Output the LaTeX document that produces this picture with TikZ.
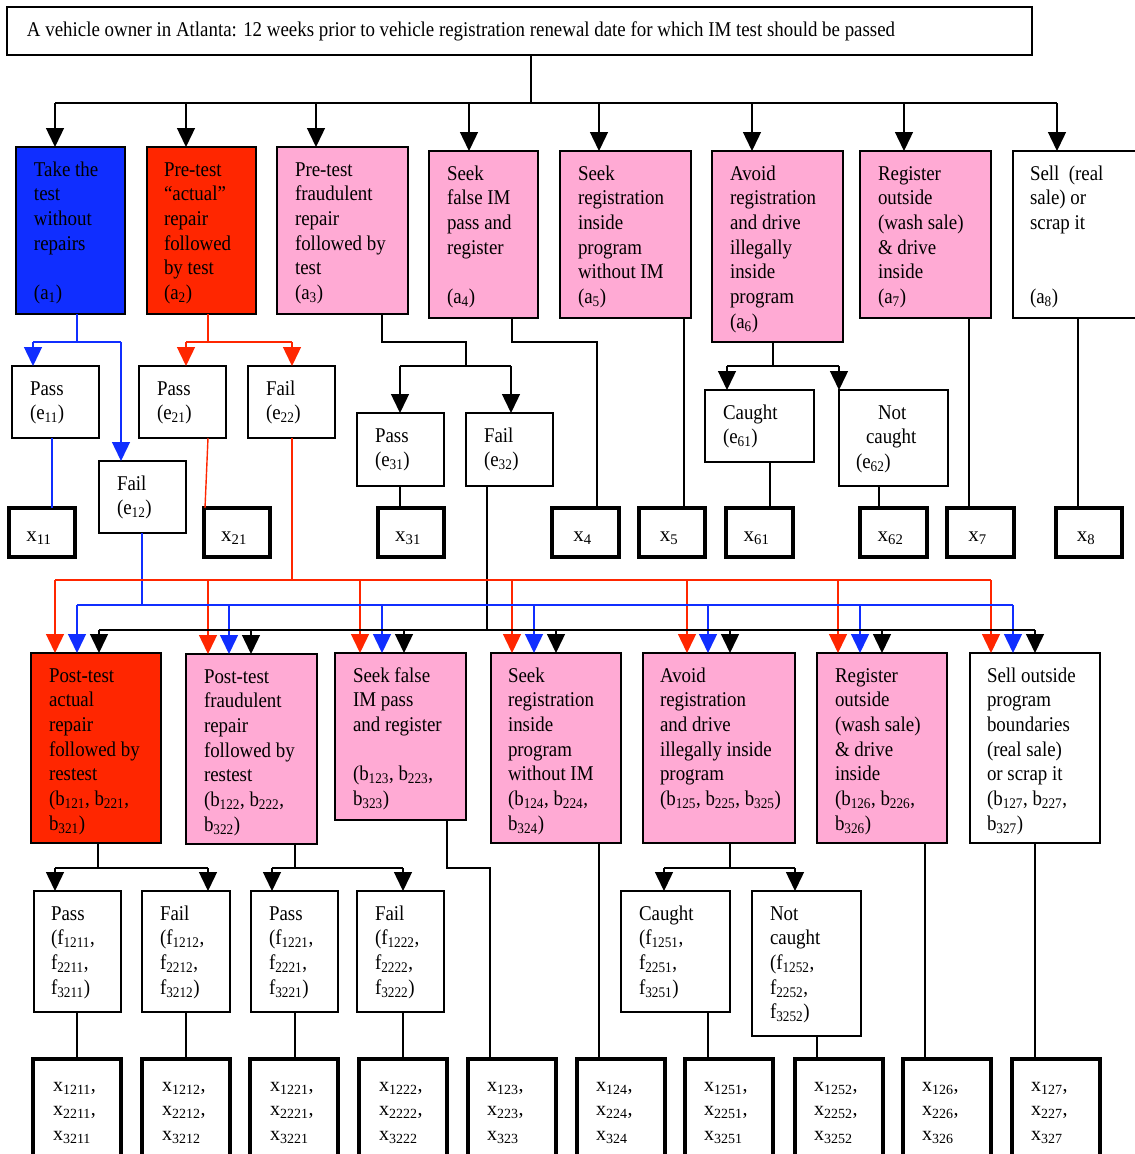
\documentclass[tikz,border=0pt]{standalone}
\usepackage{fontspec}
\setmainfont{Liberation Serif}[FakeStretch=0.9]
\newfontfamily\xfont{Liberation Serif}
\usetikzlibrary{arrows.meta,calc}
\definecolor{cblue}{RGB}{16,46,255}
\definecolor{cred}{RGB}{255,38,0}
\definecolor{cpink}{RGB}{255,170,212}
\newcommand\subx[1]{\textsubscript{#1}}
\newcommand\strutA{\rule{0pt}{17pt}}
\newcommand\mkbox[6]{\node[#6, minimum width={(#4)-(#2)}, minimum height={(#5)-(#3)}] (#1) at ({((#2)+(#4))/2},{((#3)+(#5))/2}) {};}
\newcommand\mktxt[4][]{\node[txt,#1] (#2-t) at ($(#2.north west)+(#3)$) {\strutA #4};}
\tikzset{
 bx/.style={draw, line width=1.6pt, outer sep=0pt, inner sep=0pt},
 bblue/.style={bx, fill=cblue},
 bred/.style={bx, fill=cred},
 bpink/.style={bx, fill=cpink},
 bwhite/.style={bx, fill=white},
 xbox/.style={draw, line width=4.5pt, outer sep=0pt, inner sep=0pt, fill=white},
 txt/.style={anchor=north west, inner sep=0pt, outer sep=0pt, align=left, font=\fontsize{21}{24.7}\selectfont},
 xtxt/.style={font=\fontsize{20}{24.7}\xfont},
 xl/.style={anchor=base, inner sep=0pt, outer sep=0pt, font=\fontsize{21}{24.7}\xfont},
 ln/.style={line width=1.4pt, black},
 lnb/.style={line width=1.4pt, cblue},
 lnr/.style={line width=1.4pt, cred},
 tip/.style={-{Triangle[length=19pt,width=18pt]}},
}
\begin{document}
\begin{tikzpicture}[x=1pt,y=-1pt]
\useasboundingbox (0,0) rectangle (1135,1154);
\clip (0,0) rectangle (1135,1154);
\fill[white] (0,0) rectangle (1135,1154);
% ---------- title
\mkbox{title}{7}{7}{1032}{55}{bwhite}
\mktxt{title}{20,12}{A vehicle owner in Atlanta: 12 weeks prior to vehicle registration renewal date for which IM test should be passed}
% ---------- first choices
\mkbox{a1}{16}{147}{125}{314}{bblue}
\mktxt{a1}{18,12}{Take the\\test\\without\\repairs\\[24.7pt](a\subx{1})}
\mkbox{a2}{147}{147}{256}{314}{bred}
\mktxt{a2}{17,12}{Pre-test\\“actual”\\repair\\followed\\by test\\(a\subx{2})}
\mkbox{a3}{277}{147}{408}{314}{bpink}
\mktxt{a3}{18,12}{Pre-test\\fraudulent\\repair\\followed by\\test\\(a\subx{3})}
\mkbox{a4}{429}{151}{538}{318}{bpink}
\mktxt{a4}{18,12}{Seek\\false IM\\pass and\\register\\[24.7pt](a\subx{4})}
\mkbox{a5}{560}{151}{691}{318}{bpink}
\mktxt{a5}{18,12}{Seek\\registration\\inside\\program\\without IM\\(a\subx{5})}
\mkbox{a6}{712}{151}{843}{342}{bpink}
\mktxt{a6}{18,12}{Avoid\\registration\\and drive\\illegally\\inside\\program\\(a\subx{6})}
\mkbox{a7}{860}{151}{991}{318}{bpink}
\mktxt{a7}{18,12}{Register\\outside\\(wash sale)\\\& drive\\inside\\(a\subx{7})}
\mkbox{a8}{1013}{151}{1150}{318}{bwhite}
\mktxt{a8}{17,12}{Sell~ (real\\sale) or\\scrap it\\[49.4pt](a\subx{8})}
% ---------- events
\mkbox{e11}{12}{366}{99}{438}{bwhite}
\mktxt{e11}{18,12}{Pass\\(e\subx{11})}
\mkbox{e12}{99}{461}{186}{533}{bwhite}
\mktxt{e12}{18,12}{Fail\\(e\subx{12})}
\mkbox{e21}{139}{366}{226}{438}{bwhite}
\mktxt{e21}{18,12}{Pass\\(e\subx{21})}
\mkbox{e22}{248}{366}{335}{438}{bwhite}
\mktxt{e22}{18,12}{Fail\\(e\subx{22})}
\mkbox{e31}{357}{413}{444}{486}{bwhite}
\mktxt{e31}{18,12}{Pass\\(e\subx{31})}
\mkbox{e32}{466}{413}{553}{486}{bwhite}
\mktxt{e32}{18,12}{Fail\\(e\subx{32})}
\mkbox{e61}{705}{390}{814}{462}{bwhite}
\mktxt{e61}{18,12}{Caught\\(e\subx{61})}
\mkbox{e62}{839}{390}{948}{486}{bwhite}
\mktxt{e62}{17,12}{\hspace*{22pt}Not\\\hspace*{10pt}caught\\(e\subx{62})}
% ---------- first outcomes
\mkbox{x11}{9}{508}{75}{557}{xbox}
\mkbox{x21}{204}{508}{270}{557}{xbox}
\mkbox{x31}{378}{508}{444}{557}{xbox}
\mkbox{x4}{552}{508}{619}{557}{xbox}
\mkbox{x5}{639}{508}{705}{557}{xbox}
\mkbox{x61}{726}{508}{793}{557}{xbox}
\mkbox{x62}{860}{508}{927}{557}{xbox}
\mkbox{x7}{947}{508}{1014}{557}{xbox}
\mkbox{x8}{1056}{508}{1122}{557}{xbox}
\foreach \n/\s in {x11/11,x21/21,x31/31,x4/4,x5/5,x61/61,x62/62,x7/7,x8/8}
  \node[xl] (\n-t) at ($(\n.center)+(-3,9)$) {x\subx{\s}};
% ---------- second choices
\mkbox{b1}{31}{653}{161}{843}{bred}
\mktxt{b1}{18,12}{Post-test\\actual\\repair\\followed by\\restest\\(b\subx{121}, b\subx{221},\\b\subx{321})}
\mkbox{b2}{186}{654}{317}{844}{bpink}
\mktxt{b2}{18,12}{Post-test\\fraudulent\\repair\\followed by\\restest\\(b\subx{122}, b\subx{222},\\b\subx{322})}
\mkbox{b3}{335}{653}{466}{820}{bpink}
\mktxt{b3}{18,12}{Seek false\\IM pass\\and register\\[24.7pt](b\subx{123}, b\subx{223},\\b\subx{323})}
\mkbox{b4}{491}{653}{621}{843}{bpink}
\mktxt{b4}{17,12}{Seek\\registration\\inside\\program\\without IM\\(b\subx{124}, b\subx{224},\\b\subx{324})}
\mkbox{b5}{643}{653}{795}{843}{bpink}
\mktxt{b5}{17,12}{Avoid\\registration\\and drive\\illegally inside\\program\\(b\subx{125}, b\subx{225}, b\subx{325})}
\mkbox{b6}{817}{653}{947}{843}{bpink}
\mktxt{b6}{18,12}{Register\\outside\\(wash sale)\\\& drive\\inside\\(b\subx{126}, b\subx{226},\\b\subx{326})}
\mkbox{b7}{970}{653}{1100}{843}{bwhite}
\mktxt{b7}{17,12}{Sell outside\\program\\boundaries\\(real sale)\\or scrap it\\(b\subx{127}, b\subx{227},\\b\subx{327})}
% ---------- second events
\mkbox{f1211}{34}{891}{121}{1012}{bwhite}
\mktxt{f1211}{17,12}{Pass\\(f\subx{1211},\\f\subx{2211},\\f\subx{3211})}
\mkbox{f1212}{142}{891}{230}{1012}{bwhite}
\mktxt{f1212}{18,12}{Fail\\(f\subx{1212},\\f\subx{2212},\\f\subx{3212})}
\mkbox{f1221}{251}{891}{338}{1012}{bwhite}
\mktxt{f1221}{18,12}{Pass\\(f\subx{1221},\\f\subx{2221},\\f\subx{3221})}
\mkbox{f1222}{357}{891}{444}{1012}{bwhite}
\mktxt{f1222}{18,12}{Fail\\(f\subx{1222},\\f\subx{2222},\\f\subx{3222})}
\mkbox{f1251}{621}{891}{730}{1012}{bwhite}
\mktxt{f1251}{18,12}{Caught\\(f\subx{1251},\\f\subx{2251},\\f\subx{3251})}
\mkbox{f1252}{752}{891}{861}{1036}{bwhite}
\mktxt{f1252}{18,12}{Not\\caught\\(f\subx{1252},\\f\subx{2252},\\f\subx{3252})}
% ---------- second outcomes
\foreach \n/\l/\r in {x1211/33/121,x1212/142/230,x1221/250/338,x1222/359/447,x123/468/556,x124/577/665,x1251/685/773,x1252/795/883,x126/903/991,x127/1012/1100}
  {\mkbox{\n}{\l}{1059}{\r}{1170}{xbox}}
\mktxt[xtxt]{x1211}{20,15}{x\subx{1211},\\x\subx{2211},\\x\subx{3211}}
\mktxt[xtxt]{x1212}{20,15}{x\subx{1212},\\x\subx{2212},\\x\subx{3212}}
\mktxt[xtxt]{x1221}{20,15}{x\subx{1221},\\x\subx{2221},\\x\subx{3221}}
\mktxt[xtxt]{x1222}{20,15}{x\subx{1222},\\x\subx{2222},\\x\subx{3222}}
\mktxt[xtxt]{x123}{19,15}{x\subx{123},\\x\subx{223},\\x\subx{323}}
\mktxt[xtxt]{x124}{19,15}{x\subx{124},\\x\subx{224},\\x\subx{324}}
\mktxt[xtxt]{x1251}{19,15}{x\subx{1251},\\x\subx{2251},\\x\subx{3251}}
\mktxt[xtxt]{x1252}{19,15}{x\subx{1252},\\x\subx{2252},\\x\subx{3252}}
\mktxt[xtxt]{x126}{19,15}{x\subx{126},\\x\subx{226},\\x\subx{326}}
\mktxt[xtxt]{x127}{19,15}{x\subx{127},\\x\subx{227},\\x\subx{327}}
% ================= connectors
% main tree
\coordinate (m0) at (531,103);
\draw[ln] (title.south -| m0) -- (m0);
\draw[ln] (55,103) -- (1057,103);
\foreach \n/\x in {a1/55,a2/186,a3/316,a4/469,a5/599,a6/752,a7/904,a8/1057}
  \draw[ln,tip] (\x,103) -- (\x,0 |- \n.north);
% a1 branch (blue)
\draw[lnb] (77,0 |- a1.south) -- (77,342);
\draw[lnb] (33,342) -- (121,342);
\draw[lnb,tip] (33,342) -- (33,0 |- e11.north);
\draw[lnb,tip] (121,342) -- (121,0 |- e12.north);
\draw[lnb] (52,0 |- e11.south) -- (52,0 |- x11.north);
\draw[lnb] (142,0 |- e12.south) -- (142,605);
% a2 branch (red)
\draw[lnr] (208,0 |- a2.south) -- (208,342);
\draw[lnr] (186,342) -- (292,342);
\draw[lnr,tip] (186,342) -- (186,0 |- e21.north);
\draw[lnr,tip] (292,342) -- (292,0 |- e22.north);
\draw[lnr] (208,0 |- e21.south) -- (205,0 |- x21.north);
\draw[lnr] (292,0 |- e22.south) -- (292,580);
% a3 branch
\draw[ln] (382,0 |- a3.south) -- (382,342) -- (466,342) -- (466,366);
\draw[ln] (400,366) -- (511,366);
\draw[ln,tip] (400,366) -- (400,0 |- e31.north);
\draw[ln,tip] (511,366) -- (511,0 |- e32.north);
\draw[ln] (400,0 |- e31.south) -- (400,0 |- x31.north);
\draw[ln] (487,0 |- e32.south) -- (487,630);
% a4, a5
\draw[ln] (512,0 |- a4.south) -- (512,342) -- (597,342) -- (597,0 |- x4.north);
\draw[ln] (684,0 |- a5.south) -- (684,0 |- x5.north);
% a6 branch
\draw[ln] (773,0 |- a6.south) -- (773,366);
\draw[ln] (727,366) -- (839,366);
\draw[ln,tip] (727,366) -- (727,0 |- e61.north);
\draw[ln,tip] (839,366) -- (839,0 |- e62.north);
\draw[ln] (770,0 |- e61.south) -- (770,0 |- x61.north);
\draw[ln] (879,0 |- e62.south) -- (879,0 |- x62.north);
% a7, a8
\draw[ln] (969,0 |- a7.south) -- (969,0 |- x7.north);
\draw[ln] (1078,0 |- a8.south) -- (1078,0 |- x8.north);
% buses to second choices
\draw[lnr] (55,580) -- (991,580);
\foreach \n/\x in {b1/55,b2/208,b3/360,b4/512,b5/687,b6/838,b7/991}
  \draw[lnr,tip] (\x,580) -- (\x,0 |- \n.north);
\draw[lnb] (77,605) -- (1013,605);
\foreach \n/\x in {b1/77,b2/229,b3/382,b4/534,b5/708,b6/860,b7/1013}
  \draw[lnb,tip] (\x,605) -- (\x,0 |- \n.north);
\draw[ln] (99,630) -- (1035,630);
\foreach \n/\x in {b1/99,b2/251,b3/404,b4/556,b5/730,b6/882,b7/1035}
  \draw[ln,tip] (\x,630) -- (\x,0 |- \n.north);
% bottom tree
\draw[ln] (98,0 |- b1.south) -- (98,868);
\draw[ln] (55,868) -- (208,868);
\draw[ln,tip] (55,868) -- (55,0 |- f1211.north);
\draw[ln,tip] (208,868) -- (208,0 |- f1212.north);
\draw[ln] (295,0 |- b2.south) -- (295,868);
\draw[ln] (272,868) -- (403,868);
\draw[ln,tip] (272,868) -- (272,0 |- f1221.north);
\draw[ln,tip] (403,868) -- (403,0 |- f1222.north);
\draw[ln] (447,0 |- b3.south) -- (447,868) -- (490,868) -- (490,0 |- x123.north);
\draw[ln] (599,0 |- b4.south) -- (599,0 |- x124.north);
\draw[ln] (730,0 |- b5.south) -- (730,868);
\draw[ln] (664,868) -- (795,868);
\draw[ln,tip] (664,868) -- (664,0 |- f1251.north);
\draw[ln,tip] (795,868) -- (795,0 |- f1252.north);
\draw[ln] (925,0 |- b6.south) -- (925,0 |- x126.north);
\draw[ln] (1035,0 |- b7.south) -- (1035,0 |- x127.north);
\draw[ln] (77,0 |- f1211.south) -- (77,0 |- x1211.north);
\draw[ln] (186,0 |- f1212.south) -- (186,0 |- x1212.north);
\draw[ln] (295,0 |- f1221.south) -- (295,0 |- x1221.north);
\draw[ln] (403,0 |- f1222.south) -- (403,0 |- x1222.north);
\draw[ln] (708,0 |- f1251.south) -- (708,0 |- x1251.north);
\draw[ln] (817,0 |- f1252.south) -- (817,0 |- x1252.north);
\end{tikzpicture}
\end{document}
